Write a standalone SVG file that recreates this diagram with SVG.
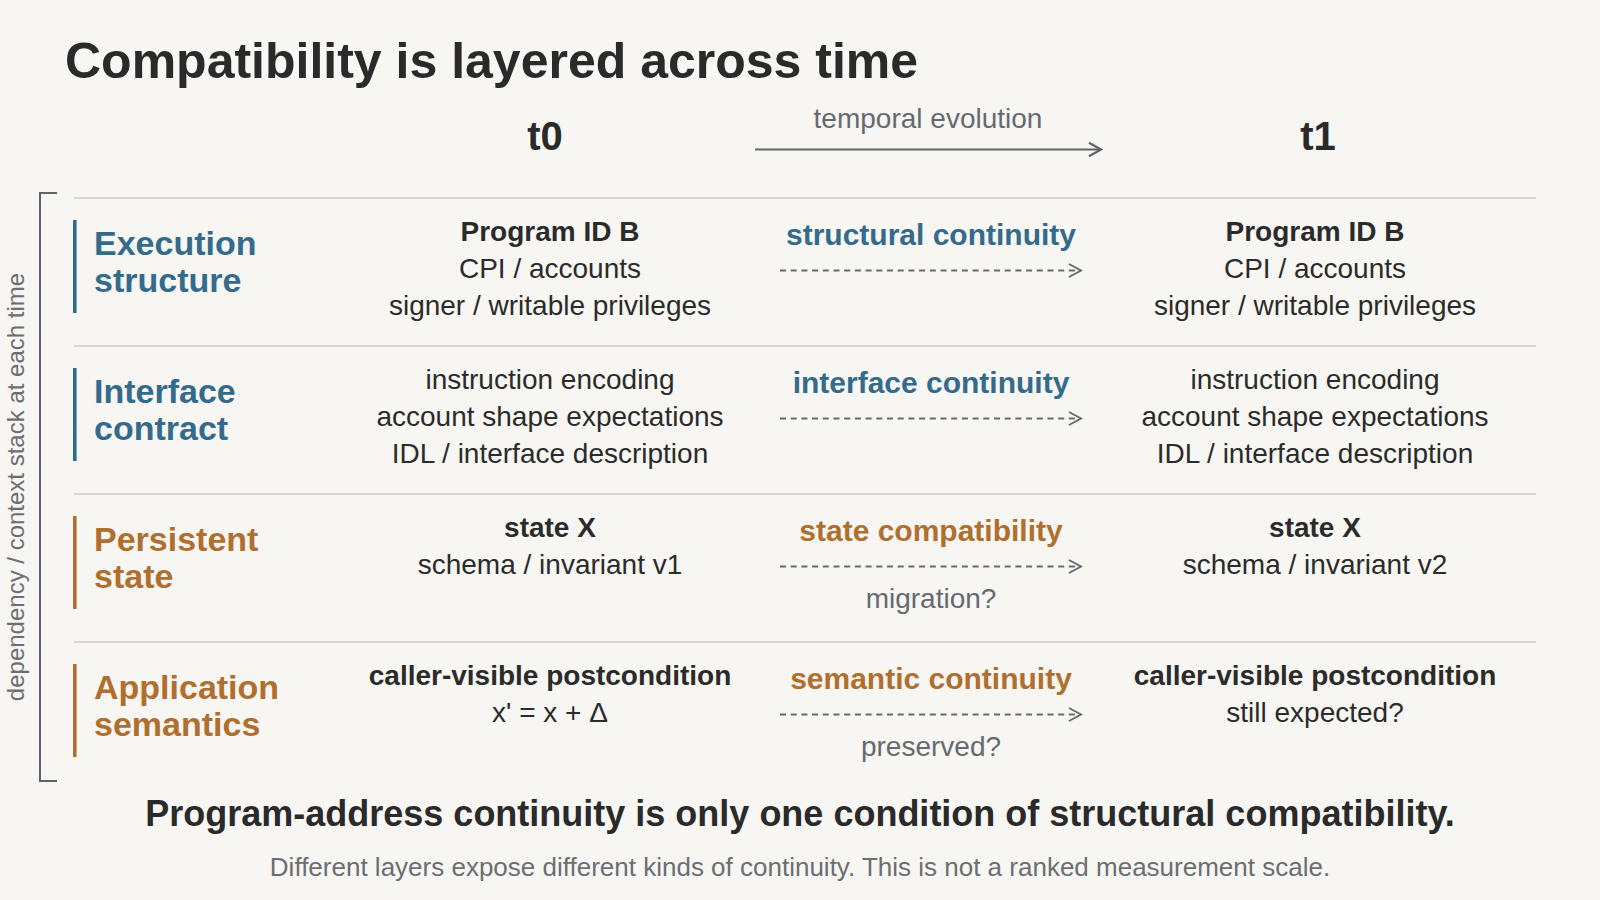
<svg xmlns="http://www.w3.org/2000/svg" width="1600" height="900" viewBox="0 0 1600 900">
<defs>
<style>
text{font-family:"Liberation Sans",Arial,Helvetica,sans-serif;}
.title{font-size:50px;font-weight:bold;fill:#2a2a2a;}
.time{font-size:40px;font-weight:bold;fill:#2a2a2a;text-anchor:middle;}
.gray{font-size:28px;fill:#666a70;text-anchor:middle;}
.layer{font-size:34px;font-weight:bold;}
.blue{fill:#346b8d;}
.orange{fill:#b06f2f;}
.cell{font-size:28px;fill:#2b2b2b;text-anchor:middle;}
.b{font-weight:bold;}
.mid{font-size:30px;font-weight:bold;text-anchor:middle;}
.sep{stroke:#d9d7d1;stroke-width:2;fill:none;}
.bar-blue{fill:#346b8d;}
.bar-orange{fill:#b06f2f;}
.dash{stroke:#666a70;stroke-width:1.8;stroke-dasharray:6 4.7;fill:none;}
.axis{stroke:#5f636a;stroke-width:2.2;fill:none;}
</style>
<marker id="chev" markerUnits="userSpaceOnUse" markerWidth="16" markerHeight="16" refX="13" refY="7" orient="auto" overflow="visible">
<path d="M1,0.5 L13,7 L1,13.5" fill="none" stroke="#666a70" stroke-width="1.9" stroke-dasharray="none"/>
</marker>
<marker id="chev2" markerUnits="userSpaceOnUse" markerWidth="16" markerHeight="16" refX="13" refY="7" orient="auto" overflow="visible">
<path d="M1,0.3 L13,7 L1,13.7" fill="none" stroke="#5f636a" stroke-width="2.2" stroke-dasharray="none"/>
</marker>
</defs>
<rect width="1600" height="900" fill="#f7f6f2"/>

<g id="title">
<text class="title" x="65" y="78">Compatibility is layered across time</text>
</g>

<g id="header">
<text class="time" x="545" y="150">t0</text>
<text class="time" x="1318" y="150">t1</text>
<text class="gray" x="928" y="128">temporal evolution</text>
</g>

<g id="axis">
<path d="M57,193 L40,193 L40,781 L57,781" fill="none" stroke="#5f636a" stroke-width="2"/>
<text transform="translate(24,487) rotate(-90)" font-size="24" fill="#6b6e73" text-anchor="middle">dependency / context stack at each time</text>
</g>

<g id="separators">
<line class="sep" x1="74" y1="198" x2="1536" y2="198"/>
<line class="sep" x1="74" y1="346" x2="1536" y2="346"/>
<line class="sep" x1="74" y1="494" x2="1536" y2="494"/>
<line class="sep" x1="74" y1="642" x2="1536" y2="642"/>
</g>

<g id="connectors">
<line class="axis" x1="755" y1="149.5" x2="1101" y2="149.5" marker-end="url(#chev2)"/>
<line class="dash" x1="780" y1="270.5" x2="1081" y2="270.5" marker-end="url(#chev)"/>
<line class="dash" x1="780" y1="418.5" x2="1081" y2="418.5" marker-end="url(#chev)"/>
<line class="dash" x1="780" y1="566.5" x2="1081" y2="566.5" marker-end="url(#chev)"/>
<line class="dash" x1="780" y1="714.5" x2="1081" y2="714.5" marker-end="url(#chev)"/>
</g>

<g id="layer-execution">
<rect class="bar-blue" x="73" y="220" width="3.6" height="93"/>
<text class="layer blue" x="94" y="255">Execution</text>
<text class="layer blue" x="94" y="292">structure</text>
</g>
<g id="exec-t0">
<text class="cell b" x="550" y="241">Program ID B</text>
<text class="cell" x="550" y="278">CPI / accounts</text>
<text class="cell" x="550" y="314.5">signer / writable privileges</text>
</g>
<g id="exec-mid">
<text class="mid blue" x="931" y="245">structural continuity</text>
</g>
<g id="exec-t1">
<text class="cell b" x="1315" y="241">Program ID B</text>
<text class="cell" x="1315" y="278">CPI / accounts</text>
<text class="cell" x="1315" y="314.5">signer / writable privileges</text>
</g>

<g id="layer-interface">
<rect class="bar-blue" x="73" y="368" width="3.6" height="93"/>
<text class="layer blue" x="94" y="403">Interface</text>
<text class="layer blue" x="94" y="440">contract</text>
</g>
<g id="iface-t0">
<text class="cell" x="550" y="389">instruction encoding</text>
<text class="cell" x="550" y="426">account shape expectations</text>
<text class="cell" x="550" y="462.5">IDL / interface description</text>
</g>
<g id="iface-mid">
<text class="mid blue" x="931" y="393">interface continuity</text>
</g>
<g id="iface-t1">
<text class="cell" x="1315" y="389">instruction encoding</text>
<text class="cell" x="1315" y="426">account shape expectations</text>
<text class="cell" x="1315" y="462.5">IDL / interface description</text>
</g>

<g id="layer-state">
<rect class="bar-orange" x="73" y="516" width="3.6" height="93"/>
<text class="layer orange" x="94" y="551">Persistent</text>
<text class="layer orange" x="94" y="588">state</text>
</g>
<g id="state-t0">
<text class="cell b" x="550" y="537">state X</text>
<text class="cell" x="550" y="574">schema / invariant v1</text>
</g>
<g id="state-mid">
<text class="mid orange" x="931" y="541">state compatibility</text>
<text class="gray" x="931" y="608">migration?</text>
</g>
<g id="state-t1">
<text class="cell b" x="1315" y="537">state X</text>
<text class="cell" x="1315" y="574">schema / invariant v2</text>
</g>

<g id="layer-semantics">
<rect class="bar-orange" x="73" y="664" width="3.6" height="93"/>
<text class="layer orange" x="94" y="699">Application</text>
<text class="layer orange" x="94" y="736">semantics</text>
</g>
<g id="sem-t0">
<text class="cell b" x="550" y="685">caller-visible postcondition</text>
<text class="cell" x="550" y="722">x' = x + Δ</text>
</g>
<g id="sem-mid">
<text class="mid orange" x="931" y="689">semantic continuity</text>
<text class="gray" x="931" y="756">preserved?</text>
</g>
<g id="sem-t1">
<text class="cell b" x="1315" y="685">caller-visible postcondition</text>
<text class="cell" x="1315" y="722">still expected?</text>
</g>

<g id="footer">
<text x="800" y="825.5" font-size="36" font-weight="bold" fill="#2a2a2a" text-anchor="middle">Program-address continuity is only one condition of structural compatibility.</text>
<text x="800" y="875.5" font-size="26" fill="#6b6e73" text-anchor="middle">Different layers expose different kinds of continuity. This is not a ranked measurement scale.</text>
</g>
</svg>
